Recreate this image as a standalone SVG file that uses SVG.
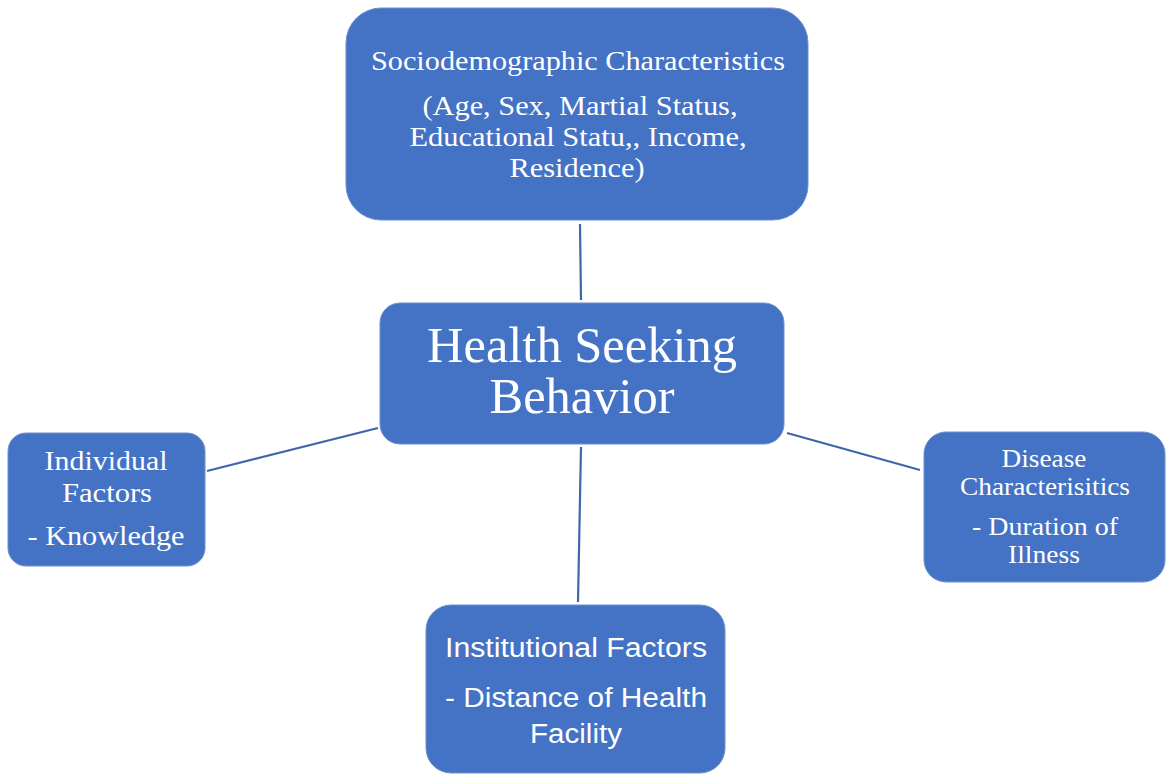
<svg xmlns="http://www.w3.org/2000/svg" width="1167" height="775" viewBox="0 0 1167 775">
  <style>
    .box { fill: #4472C4; stroke: #6E8FCF; stroke-width: 1; }
    .serif { font-family: "Liberation Serif", "Times New Roman", serif; fill: #ffffff; text-anchor: middle; }
    .sans { font-family: "Liberation Sans", Arial, sans-serif; fill: #ffffff; text-anchor: middle; }
    .link { stroke: #3F66AC; stroke-width: 2.2; fill: none; }
  </style>
  <rect width="1167" height="775" fill="#ffffff"/>

  <!-- connectors between the centre node and the four factor groups -->
  <g id="connectors">
    <line class="link" x1="580" y1="224" x2="581" y2="300"/>
    <line class="link" x1="207" y1="471" x2="378" y2="428"/>
    <line class="link" x1="787" y1="433" x2="920" y2="470"/>
    <line class="link" x1="581" y1="447" x2="578" y2="602"/>
  </g>

  <g id="sociodemographic">
    <rect class="box" x="346" y="8" width="462" height="212" rx="35"/>
    <text class="serif" font-size="28" x="578" y="70" textLength="414" lengthAdjust="spacingAndGlyphs">Sociodemographic Characteristics</text>
    <text class="serif" font-size="28" x="580" y="115" textLength="315" lengthAdjust="spacingAndGlyphs">(Age, Sex, Martial Status,</text>
    <text class="serif" font-size="28" x="578" y="146" textLength="337" lengthAdjust="spacingAndGlyphs">Educational Statu,, Income,</text>
    <text class="serif" font-size="28" x="577" y="177" textLength="135" lengthAdjust="spacingAndGlyphs">Residence)</text>
  </g>

  <g id="health-seeking">
    <rect class="box" x="380" y="303" width="404" height="141" rx="20"/>
    <text class="serif" font-size="50" x="582" y="362" textLength="310" lengthAdjust="spacingAndGlyphs">Health Seeking</text>
    <text class="serif" font-size="50" x="582" y="413" textLength="185" lengthAdjust="spacingAndGlyphs">Behavior</text>
  </g>

  <g id="individual">
    <rect class="box" x="8" y="433" width="197" height="133" rx="18"/>
    <text class="serif" font-size="28" x="106" y="470" textLength="123" lengthAdjust="spacingAndGlyphs">Individual</text>
    <text class="serif" font-size="28" x="107" y="502" textLength="90" lengthAdjust="spacingAndGlyphs">Factors</text>
    <text class="serif" font-size="28" x="106" y="545" textLength="157" lengthAdjust="spacingAndGlyphs">- Knowledge</text>
  </g>

  <g id="disease">
    <rect class="box" x="924" y="432" width="241" height="150" rx="22"/>
    <text class="serif" font-size="25" x="1044" y="467" textLength="85" lengthAdjust="spacingAndGlyphs">Disease</text>
    <text class="serif" font-size="25" x="1045" y="495" textLength="170" lengthAdjust="spacingAndGlyphs">Characterisitics</text>
    <text class="serif" font-size="25" x="1045" y="535" textLength="146" lengthAdjust="spacingAndGlyphs">- Duration of</text>
    <text class="serif" font-size="25" x="1044" y="563" textLength="72" lengthAdjust="spacingAndGlyphs">Illness</text>
  </g>

  <g id="institutional">
    <rect class="box" x="426" y="605" width="299" height="168" rx="25"/>
    <text class="sans" font-size="27" x="576" y="657" textLength="262" lengthAdjust="spacingAndGlyphs">Institutional Factors</text>
    <text class="sans" font-size="27" x="576" y="707" textLength="262" lengthAdjust="spacingAndGlyphs">- Distance of Health</text>
    <text class="sans" font-size="27" x="576" y="743" textLength="92" lengthAdjust="spacingAndGlyphs">Facility</text>
  </g>
</svg>
